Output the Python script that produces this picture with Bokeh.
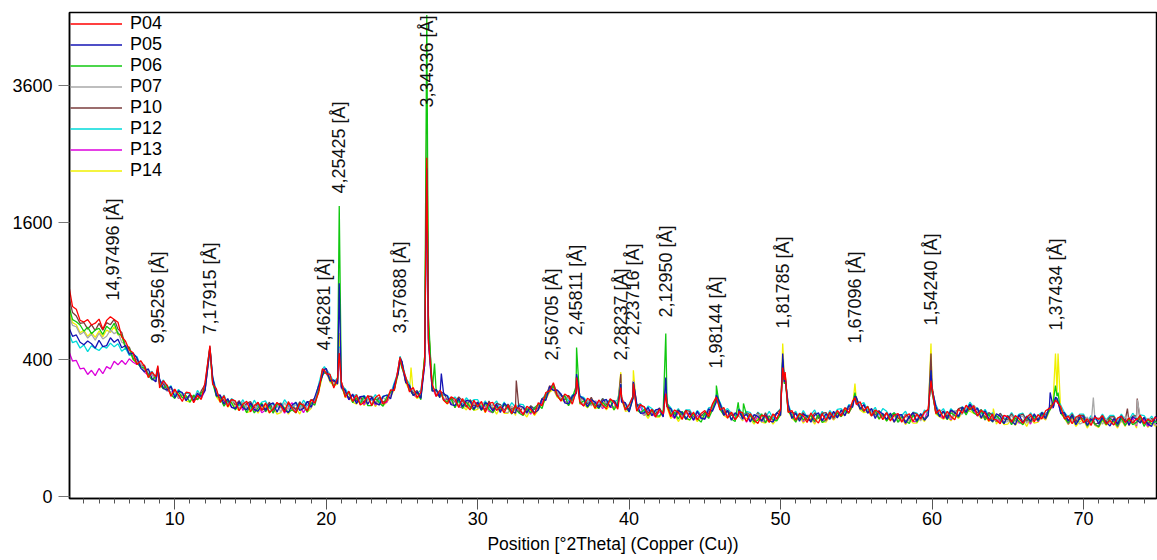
import numpy as np
from bokeh.plotting import figure
from bokeh.models import (Range1d, FixedTicker, SingleIntervalTicker, Legend, LegendItem,
                          ColumnDataSource, CustomJSTickFormatter)
from bokeh.core.properties import value
from bokeh.embed import file_html
from bokeh.resources import INLINE

# ---------------------------------------------------------------------------
# Scan settings (Cu K-alpha1), background sampled every 0.25 deg from 3 to 75
# ---------------------------------------------------------------------------
WAVELENGTH = 1.5406
scan_start = 3.0
scan_step = 0.25

samples = ["P04", "P05", "P06", "P07", "P10", "P12", "P13", "P14"]
colors = ["#ff0000", "#1414b4", "#10c810", "#a8a8a8", "#7a3c3c", "#00dada", "#dc00dc", "#f0f000"]

# counts, two degrees per row (x.00, x.25, x.50, x.75)
P04 = [
    955, 770, 748, 662, 650, 668, 628, 641,
    672, 597, 662, 690, 668, 648, 545, 515,
    458, 441, 372, 394, 361, 302, 331, 305,
    251, 287, 262, 214, 246, 219, 193, 232,
    229, 188, 218, 201, 278, 430, 270, 247,
    189, 217, 172, 201, 195, 157, 182, 194,
    153, 176, 190, 158, 187, 150, 164, 189,
    175, 152, 192, 166, 149, 185, 178, 156,
    201, 187, 231, 348, 322, 318, 251, 300,
    282, 211, 237, 193, 221, 179, 190, 218,
    176, 209, 221, 184, 196, 243, 240, 350,
    362, 305, 233, 253, 209, 232, 390, 510,
    268, 214, 241, 198, 184, 212, 203, 169,
    205, 177, 160, 198, 171, 193, 152, 185,
    189, 158, 173, 150, 178, 146, 181, 167,
    142, 174, 163, 144, 188, 176, 231, 238,
    276, 219, 194, 224, 213, 182, 236, 191,
    175, 206, 196, 166, 199, 178, 164, 204,
    189, 163, 212, 160, 179, 215, 155, 181,
    170, 141, 162, 136, 162, 145, 178, 136,
    160, 151, 127, 158, 133, 152, 125, 147,
    158, 136, 182, 211, 160, 169, 131, 152,
    126, 155, 149, 120, 147, 125, 114, 141,
    138, 117, 146, 128, 162, 290, 151, 158,
    124, 148, 139, 117, 149, 128, 115, 145,
    124, 152, 133, 158, 138, 168, 149, 194,
    181, 192, 156, 173, 139, 160, 151, 126,
    150, 122, 141, 147, 118, 138, 146, 120,
    145, 128, 152, 162, 250, 147, 161, 131,
    155, 137, 126, 163, 148, 178, 160, 176,
    139, 158, 149, 122, 146, 125, 113, 141,
    136, 118, 140, 129, 114, 135, 145, 119,
    143, 128, 157, 166, 182, 193, 171, 128,
    138, 113, 134, 142, 116, 129, 108, 135,
    127, 140, 112, 124, 109, 131, 138, 117,
    132, 115, 129, 141, 113, 128, 119, 134,
    124,
]
P05 = [
    612, 548, 557, 508, 492, 516, 498, 470,
    521, 480, 486, 538, 508, 528, 472, 487,
    432, 438, 410, 352, 332, 349, 296, 281,
    295, 249, 241, 259, 209, 238, 230, 196,
    222, 195, 227, 213, 240, 410, 306, 216,
    220, 183, 205, 170, 165, 191, 168, 160,
    186, 162, 155, 181, 158, 180, 187, 152,
    183, 161, 150, 179, 189, 158, 166, 193,
    170, 212, 262, 310, 350, 284, 290, 270,
    255, 242, 200, 224, 184, 213, 215, 182,
    210, 186, 179, 213, 220, 204, 269, 322,
    390, 277, 262, 218, 235, 205, 370, 530,
    238, 245, 208, 226, 215, 180, 176, 206,
    172, 197, 194, 163, 190, 160, 188, 180,
    155, 182, 151, 186, 172, 155, 148, 176,
    170, 150, 171, 149, 160, 203, 197, 258,
    240, 242, 225, 187, 183, 215, 226, 214,
    205, 172, 200, 190, 168, 195, 201, 170,
    195, 170, 190, 188, 152, 205, 185, 148,
    149, 170, 139, 160, 164, 135, 172, 165,
    132, 158, 150, 127, 150, 124, 155, 131,
    128, 164, 155, 190, 185, 141, 158, 124,
    150, 162, 128, 145, 119, 143, 137, 121,
    142, 122, 118, 150, 140, 280, 180, 130,
    148, 121, 145, 138, 118, 141, 150, 122,
    146, 127, 155, 132, 160, 139, 176, 170,
    210, 162, 180, 148, 165, 130, 155, 145,
    127, 149, 118, 142, 143, 115, 136, 150,
    122, 147, 124, 140, 245, 174, 136, 156,
    128, 160, 151, 137, 170, 152, 182, 156,
    166, 131, 157, 129, 120, 146, 138, 113,
    139, 122, 110, 143, 116, 138, 121, 146,
    124, 150, 131, 172, 168, 205, 148, 150,
    121, 141, 110, 133, 136, 109, 128, 140,
    112, 133, 118, 106, 130, 111, 139, 120,
    108, 136, 127, 115, 133, 112, 105, 137,
    115,
]
P06 = [
    782, 668, 652, 628, 583, 612, 566, 592,
    604, 560, 618, 596, 640, 566, 555, 470,
    470, 402, 380, 358, 352, 315, 290, 308,
    270, 248, 266, 222, 205, 235, 207, 218,
    190, 220, 200, 230, 246, 425, 276, 214,
    208, 174, 196, 188, 160, 185, 180, 150,
    178, 149, 168, 186, 153, 176, 148, 182,
    180, 166, 152, 160, 150, 184, 176, 152,
    188, 178, 242, 318, 330, 295, 258, 296,
    258, 218, 232, 188, 208, 182, 215, 176,
    176, 205, 188, 174, 212, 232, 246, 326,
    352, 300, 240, 218, 230, 200, 420, 700,
    236, 248, 212, 198, 192, 205, 168, 200,
    165, 190, 172, 160, 183, 158, 187, 162,
    150, 172, 160, 180, 168, 145, 176, 148,
    140, 165, 150, 168, 181, 165, 218, 236,
    262, 216, 198, 218, 176, 208, 260, 185,
    196, 170, 188, 178, 165, 190, 172, 200,
    160, 188, 198, 168, 155, 205, 162, 150,
    162, 138, 158, 140, 138, 158, 190, 144,
    150, 128, 155, 132, 125, 147, 130, 118,
    148, 130, 160, 205, 162, 142, 156, 128,
    120, 165, 130, 142, 140, 118, 124, 146,
    116, 138, 126, 122, 145, 270, 154, 140,
    118, 147, 125, 138, 140, 120, 142, 117,
    125, 148, 131, 150, 136, 160, 148, 176,
    190, 168, 155, 174, 140, 158, 128, 146,
    121, 140, 150, 118, 136, 122, 114, 142,
    118, 145, 128, 140, 232, 150, 138, 154,
    126, 150, 140, 134, 166, 142, 170, 150,
    140, 160, 125, 145, 118, 140, 126, 114,
    140, 110, 131, 120, 110, 135, 118, 140,
    122, 145, 130, 160, 190, 215, 148, 132,
    115, 138, 112, 128, 130, 106, 125, 112,
    104, 128, 110, 130, 120, 106, 132, 108,
    128, 110, 118, 136, 105, 126, 112, 120,
    112,
]
P07 = [
    702, 625, 615, 560, 578, 536, 562, 522,
    570, 530, 548, 592, 566, 580, 508, 496,
    440, 428, 386, 380, 330, 341, 320, 284,
    290, 255, 236, 250, 240, 208, 228, 200,
    215, 194, 232, 208, 262, 418, 280, 240,
    196, 210, 178, 195, 188, 164, 190, 165,
    160, 180, 158, 176, 182, 155, 172, 184,
    152, 188, 162, 178, 178, 160, 186, 165,
    168, 205, 260, 316, 342, 310, 262, 280,
    275, 220, 226, 195, 215, 188, 204, 210,
    182, 204, 178, 210, 195, 225, 262, 340,
    368, 292, 238, 245, 210, 225, 400, 560,
    256, 225, 235, 205, 210, 186, 198, 178,
    178, 198, 165, 190, 165, 188, 180, 158,
    182, 160, 176, 152, 150, 175, 155, 172,
    165, 145, 170, 150, 176, 195, 205, 252,
    248, 236, 204, 210, 205, 185, 236, 210,
    180, 200, 175, 195, 190, 170, 196, 176,
    170, 195, 206, 185, 172, 210, 168, 150,
    140, 166, 148, 158, 155, 140, 181, 158,
    138, 152, 135, 150, 148, 130, 152, 128,
    135, 160, 170, 206, 160, 166, 135, 150,
    145, 138, 125, 148, 124, 140, 145, 118,
    135, 120, 142, 128, 155, 285, 172, 133,
    128, 145, 124, 140, 138, 120, 146, 128,
    122, 150, 132, 135, 155, 142, 170, 185,
    189, 180, 160, 168, 150, 136, 156, 130,
    145, 128, 140, 118, 126, 142, 120, 140,
    140, 122, 148, 156, 240, 168, 150, 135,
    150, 130, 158, 142, 145, 172, 160, 178,
    160, 138, 150, 128, 140, 122, 142, 118,
    120, 140, 118, 135, 138, 115, 132, 140,
    128, 146, 136, 166, 170, 195, 175, 128,
    140, 118, 136, 112, 118, 135, 110, 130,
    132, 112, 128, 115, 110, 130, 118, 136,
    135, 118, 110, 132, 112, 130, 125, 108,
    114,
]
P10 = [
    858, 722, 695, 640, 646, 598, 630, 588,
    640, 590, 645, 630, 670, 598, 575, 480,
    476, 408, 402, 366, 368, 318, 322, 288,
    284, 270, 242, 250, 238, 215, 224, 205,
    220, 212, 200, 238, 268, 428, 296, 226,
    215, 196, 182, 200, 178, 196, 170, 185,
    192, 168, 186, 160, 165, 190, 158, 180,
    186, 158, 185, 172, 162, 192, 168, 190,
    195, 206, 240, 338, 348, 290, 282, 276,
    280, 232, 208, 220, 196, 214, 188, 215,
    214, 186, 210, 190, 200, 230, 250, 345,
    385, 280, 262, 228, 240, 210, 410, 620,
    262, 222, 218, 230, 198, 208, 190, 212,
    195, 170, 200, 175, 190, 168, 162, 195,
    160, 185, 180, 158, 182, 162, 175, 150,
    172, 150, 176, 162, 168, 205, 212, 262,
    250, 240, 220, 200, 218, 195, 232, 205,
    202, 182, 210, 178, 176, 205, 180, 198,
    196, 175, 200, 182, 160, 210, 180, 176,
    172, 150, 162, 145, 168, 140, 180, 160,
    142, 160, 138, 158, 155, 132, 150, 138,
    152, 145, 180, 206, 180, 150, 158, 140,
    146, 158, 135, 150, 142, 128, 150, 122,
    150, 125, 138, 148, 162, 285, 160, 150,
    148, 128, 150, 125, 125, 150, 130, 148,
    150, 130, 152, 140, 145, 168, 162, 186,
    210, 165, 180, 150, 165, 140, 158, 135,
    150, 128, 148, 132, 122, 145, 130, 150,
    145, 130, 150, 156, 260, 158, 140, 155,
    136, 158, 145, 165, 170, 150, 182, 166,
    150, 162, 132, 150, 142, 120, 148, 128,
    125, 146, 120, 140, 145, 120, 138, 128,
    126, 150, 140, 166, 181, 193, 165, 142,
    122, 145, 120, 140, 140, 118, 132, 112,
    115, 138, 120, 135, 136, 114, 130, 124,
    120, 138, 140, 118, 134, 112, 130, 120,
    126,
]
P12 = [
    572, 505, 515, 470, 490, 448, 485, 468,
    455, 482, 470, 502, 478, 498, 450, 470,
    425, 428, 418, 365, 358, 322, 335, 285,
    265, 290, 248, 262, 218, 245, 222, 228,
    225, 200, 240, 215, 258, 412, 305, 240,
    196, 220, 182, 205, 192, 175, 200, 168,
    165, 198, 172, 190, 195, 165, 186, 172,
    168, 200, 178, 162, 190, 168, 198, 175,
    200, 195, 268, 345, 345, 318, 280, 300,
    262, 248, 222, 215, 222, 190, 218, 200,
    198, 222, 192, 215, 218, 225, 278, 333,
    388, 300, 270, 240, 225, 242, 390, 540,
    255, 240, 232, 218, 218, 195, 212, 190,
    182, 208, 190, 200, 200, 172, 195, 168,
    178, 195, 165, 190, 162, 188, 170, 182,
    180, 158, 175, 166, 165, 202, 225, 250,
    270, 228, 218, 215, 195, 220, 232, 215,
    210, 190, 204, 185, 180, 205, 190, 200,
    190, 200, 212, 165, 182, 212, 175, 185,
    150, 175, 165, 152, 165, 148, 185, 168,
    148, 165, 140, 160, 160, 135, 158, 142,
    140, 168, 172, 198, 190, 155, 165, 148,
    138, 165, 145, 155, 150, 128, 152, 140,
    132, 155, 130, 150, 165, 290, 185, 140,
    155, 130, 158, 135, 142, 160, 130, 155,
    130, 158, 140, 162, 165, 150, 180, 178,
    205, 180, 188, 160, 150, 170, 140, 165,
    155, 132, 150, 138, 140, 155, 128, 152,
    148, 130, 160, 148, 245, 180, 150, 165,
    140, 165, 150, 162, 172, 160, 190, 170,
    168, 145, 162, 140, 150, 128, 148, 132,
    128, 150, 130, 145, 148, 125, 150, 130,
    140, 152, 145, 158, 172, 205, 178, 150,
    135, 150, 125, 145, 145, 120, 140, 128,
    122, 145, 125, 140, 140, 120, 145, 125,
    125, 148, 130, 142, 140, 122, 138, 118,
    117,
]
P13 = [
    452, 392, 395, 348, 352, 318, 340, 312,
    350, 322, 360, 348, 390, 370, 395, 372,
    405, 385, 372, 380, 330, 315, 325, 280,
    270, 282, 240, 232, 240, 205, 226, 198,
    215, 192, 220, 205, 240, 405, 285, 222,
    210, 178, 198, 170, 168, 190, 158, 182,
    186, 155, 178, 150, 160, 182, 150, 175,
    178, 148, 172, 188, 155, 175, 150, 180,
    172, 190, 255, 320, 322, 296, 260, 290,
    250, 232, 200, 218, 190, 210, 180, 205,
    205, 178, 200, 182, 190, 222, 248, 338,
    360, 282, 256, 220, 212, 220, 370, 500,
    242, 215, 230, 200, 205, 180, 198, 172,
    168, 192, 170, 188, 185, 160, 178, 155,
    150, 175, 156, 178, 170, 148, 165, 150,
    148, 165, 145, 170, 162, 190, 205, 240,
    250, 215, 222, 192, 190, 205, 238, 188,
    175, 198, 180, 190, 188, 165, 195, 170,
    170, 190, 208, 160, 165, 208, 160, 172,
    140, 160, 148, 135, 155, 138, 183, 145,
    130, 150, 135, 148, 145, 125, 140, 132,
    128, 155, 160, 203, 165, 145, 140, 150,
    125, 148, 135, 118, 140, 120, 138, 125,
    118, 140, 122, 130, 150, 275, 160, 138,
    125, 145, 120, 140, 140, 118, 142, 125,
    122, 145, 128, 150, 140, 158, 150, 175,
    183, 170, 155, 172, 138, 155, 130, 148,
    125, 142, 120, 145, 135, 115, 140, 120,
    120, 142, 128, 159, 235, 150, 140, 130,
    145, 125, 150, 135, 160, 150, 175, 158,
    138, 155, 125, 145, 120, 138, 118, 140,
    132, 112, 138, 115, 118, 135, 112, 140,
    120, 140, 128, 163, 168, 190, 150, 140,
    112, 135, 118, 130, 128, 106, 125, 110,
    105, 128, 112, 130, 125, 104, 130, 108,
    110, 132, 106, 128, 125, 105, 128, 110,
    110,
]
P14 = [
    732, 645, 630, 572, 590, 548, 575, 540,
    585, 545, 592, 575, 615, 558, 550, 470,
    462, 400, 378, 372, 340, 318, 296, 300,
    268, 248, 255, 222, 235, 205, 218, 195,
    190, 212, 200, 220, 242, 405, 288, 212,
    190, 205, 170, 185, 170, 158, 180, 150,
    155, 180, 148, 172, 175, 148, 170, 145,
    150, 172, 145, 168, 168, 145, 175, 152,
    165, 200, 232, 310, 330, 280, 262, 270,
    268, 210, 212, 190, 182, 205, 176, 200,
    200, 172, 198, 176, 190, 212, 245, 318,
    370, 275, 240, 225, 205, 215, 420, 640,
    240, 222, 210, 200, 182, 200, 170, 192,
    175, 160, 185, 158, 162, 182, 150, 175,
    170, 145, 172, 148, 148, 168, 140, 160,
    150, 135, 162, 140, 160, 180, 200, 232,
    245, 210, 200, 192, 178, 200, 230, 182,
    182, 168, 192, 165, 170, 185, 160, 180,
    160, 180, 205, 155, 158, 215, 160, 150,
    150, 130, 152, 135, 135, 150, 170, 130,
    142, 120, 140, 128, 125, 140, 120, 135,
    132, 140, 160, 198, 165, 140, 132, 145,
    125, 140, 122, 130, 128, 112, 130, 118,
    115, 130, 112, 128, 140, 300, 158, 130,
    120, 138, 115, 132, 130, 112, 135, 118,
    118, 138, 125, 140, 138, 145, 150, 171,
    200, 160, 150, 155, 138, 148, 128, 140,
    122, 135, 118, 130, 132, 110, 128, 115,
    115, 135, 120, 146, 260, 145, 135, 128,
    135, 122, 142, 130, 150, 160, 155, 148,
    145, 130, 138, 120, 128, 112, 132, 110,
    112, 128, 108, 125, 125, 105, 130, 115,
    118, 135, 125, 155, 200, 230, 150, 130,
    110, 128, 105, 120, 125, 100, 120, 108,
    102, 122, 108, 118, 118, 100, 125, 105,
    108, 126, 100, 120, 122, 102, 115, 105,
    117,
]

# sharp reflections measured between the background samples (deg 2Theta)
peak_pos = [8.88, 12.32, 19.88, 20.86, 24.87, 25.60, 26.64, 27.15, 27.60, 32.55,
            36.53, 39.45, 40.28, 42.42, 45.76, 47.20, 47.55, 50.14, 50.30, 54.91,
            59.93, 64.05, 67.80, 68.15, 68.32, 70.65, 72.90, 73.55]
P04_peaks = [366, 487, 339, 440, 412, 245, 2450, 240, 232, 168, 302, 253, 272, 226, 209, 140, 138, 355, 330, 209, 287, 128, 165, 197, 185, 124, 125, 126]
P05_peaks = [350, 470, 345, 970, 405, 238, 2300, 238, 323, 162, 320, 270, 280, 302, 220, 138, 136, 436, 300, 215, 340, 126, 231, 210, 190, 122, 122, 124]
P06_peaks = [345, 460, 325, 1800, 395, 235, 4950, 377, 225, 160, 474, 265, 275, 567, 263, 189, 185, 400, 300, 230, 330, 124, 160, 263, 230, 118, 119, 120]
P07_peaks = [355, 475, 340, 470, 410, 240, 2800, 236, 228, 165, 310, 275, 285, 250, 215, 140, 138, 380, 310, 220, 320, 126, 170, 200, 185, 209, 124, 200]
P10_peaks = [360, 480, 345, 460, 415, 242, 3000, 240, 230, 287, 305, 320, 285, 240, 212, 140, 138, 390, 320, 215, 436, 128, 175, 205, 190, 126, 165, 205]
P12_peaks = [352, 480, 360, 480, 420, 242, 2600, 242, 232, 170, 315, 270, 280, 260, 225, 145, 142, 400, 310, 225, 330, 130, 170, 210, 195, 125, 125, 126]
P13_peaks = [340, 465, 335, 430, 400, 236, 2400, 232, 226, 165, 305, 265, 275, 240, 215, 142, 140, 370, 300, 215, 300, 128, 170, 205, 190, 122, 122, 124]
P14_peaks = [345, 470, 330, 570, 405, 355, 3200, 234, 224, 160, 310, 330, 340, 250, 220, 138, 136, 500, 320, 272, 500, 165, 170, 436, 436, 120, 120, 122]

# indexed d-spacings (Å) and the count level where each label starts
d_spacings = [14.97496, 9.95256, 7.17915, 4.46281, 4.25425, 3.57688, 3.34336, 2.56705,
              2.45811, 2.28237, 2.23716, 2.12950, 1.98144, 1.81785, 1.67096, 1.54240, 1.37434]
label_base = [820, 500, 560, 455, 1960, 567, 3230, 395, 553, 395, 553, 684, 350, 602, 500, 624, 588]

y_ticks = [0, 400, 1600, 3600]

backgrounds = [P04, P05, P06, P07, P10, P12, P13, P14]
peak_sets = [P04_peaks, P05_peaks, P06_peaks, P07_peaks, P10_peaks, P12_peaks, P13_peaks, P14_peaks]

FONT = "Liberation Sans"

p = figure(width=1157, height=560, output_backend="svg", toolbar_location=None,
           x_range=Range1d(3.05, 74.82), y_range=Range1d(-0.29, 70.71),
           min_border_left=69, min_border_right=1, min_border_top=12, min_border_bottom=62)
p.xgrid.visible = False
p.ygrid.visible = False
p.background_fill_color = "white"
p.border_fill_color = "white"
p.outline_line_color = "black"
p.outline_line_width = 1.5

# square-root intensity axis: plot sqrt(counts), label ticks in counts
renderers = {}
for name, color, bg, pk in reversed(list(zip(samples, colors, backgrounds, peak_sets))):
    grid = scan_start + scan_step * np.arange(len(bg))
    x = np.concatenate([grid, np.array(peak_pos)])
    y = np.concatenate([np.array(bg, float), np.array(pk, float)])
    order = np.argsort(x, kind="stable")
    src = ColumnDataSource(dict(x=x[order], y=np.sqrt(y[order])))
    renderers[name] = p.line("x", "y", source=src, line_color=color, line_width=1.3)

# reflection labels, placed at the Bragg angle of each d-spacing
label_x = [2 * np.degrees(np.arcsin(WAVELENGTH / (2 * d))) for d in d_spacings]
label_txt = [("%.5f" % d).replace(".", ",") + " [Å]" for d in d_spacings]
lab_src = ColumnDataSource(dict(x=label_x, y=np.sqrt(np.array(label_base, float)), t=label_txt))
p.text("x", "y", text="t", source=lab_src, angle=np.pi / 2, text_align="left",
       text_baseline="middle", text_font=value(FONT), text_font_size="18px", text_color="#111111")

# axes
xa = p.xaxis[0]
xa.ticker = SingleIntervalTicker(interval=10, num_minor_ticks=10)
xa.axis_label = "Position [°2Theta] (Copper (Cu))"
xa.axis_label_text_font = FONT
xa.axis_label_text_font_style = "normal"
xa.axis_label_text_font_size = "17.5px"
xa.axis_label_text_color = "black"
xa.axis_label_standoff = 6
xa.major_label_text_font = FONT
xa.major_label_text_font_size = "18px"
xa.major_label_text_color = "black"
xa.major_label_standoff = 2
xa.major_tick_out = 11
xa.major_tick_in = 0
xa.minor_tick_out = 5
xa.minor_tick_in = 0
xa.major_tick_line_color = "#555555"
xa.minor_tick_line_color = "#555555"
xa.axis_line_color = "black"
xa.axis_line_width = 1.5

ya = p.yaxis[0]
ya.ticker = FixedTicker(ticks=[float(np.sqrt(v)) for v in y_ticks], minor_ticks=[])
ya.formatter = CustomJSTickFormatter(code="return Math.round(tick*tick).toString();")
ya.major_label_text_font = FONT
ya.major_label_text_font_size = "18px"
ya.major_label_text_color = "black"
ya.major_label_standoff = 6
ya.major_tick_out = 11
ya.major_tick_in = 0
ya.major_tick_line_color = "#777777"
ya.axis_line_color = "black"
ya.axis_line_width = 1.5

legend = Legend(items=[LegendItem(label=n, renderers=[renderers[n]]) for n in samples],
                location="top_left", orientation="vertical", margin=0, padding=1, spacing=0,
                glyph_width=52, glyph_height=21, label_height=21, label_standoff=8,
                label_text_font=FONT, label_text_font_size="18px", label_text_color="black",
                border_line_alpha=0, background_fill_alpha=0)
p.add_layout(legend)

open("out.html", "w").write(file_html(p, INLINE))
